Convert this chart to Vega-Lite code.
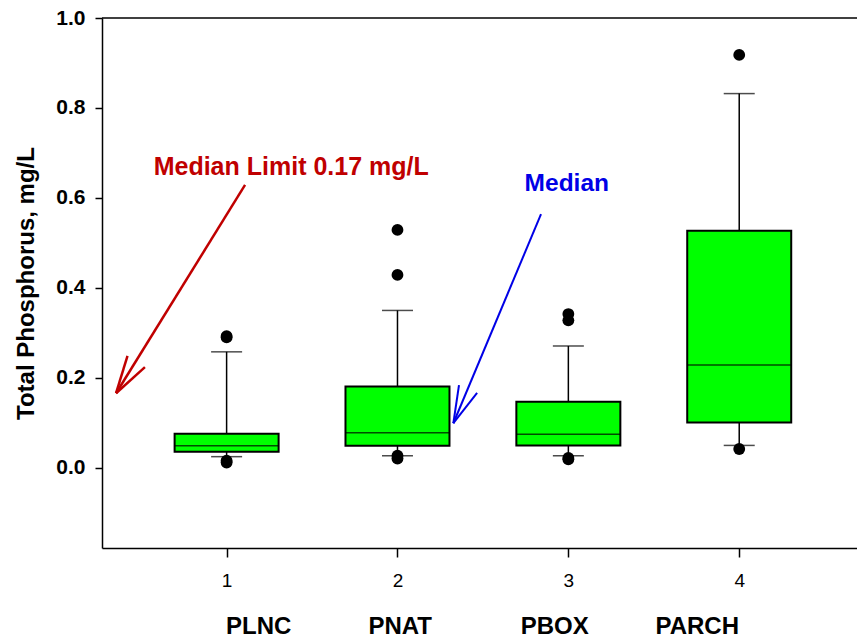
{
  "$schema": "https://vega.github.io/schema/vega-lite/v6.json",
  "autosize": "none",
  "width": 755,
  "height": 530,
  "padding": {"left": 102, "top": 18, "right": 0, "bottom": 91},
  "background": "white",
  "config": {
    "view": {"stroke": null},
    "font": "Liberation Sans",
    "axis": {"grid": false, "domainColor": "black", "domainWidth": 1.5, "tickColor": "black", "tickWidth": 1.5, "labelColor": "black", "titleColor": "black", "labelFont": "Liberation Sans", "titleFont": "Liberation Sans"}
  },
  "datasets": {
    "boxes": [
      {"site": 1, "lo": 0.025, "q1": 0.036, "med": 0.049, "q3": 0.076, "hi": 0.258},
      {"site": 2, "lo": 0.027, "q1": 0.049, "med": 0.078, "q3": 0.181, "hi": 0.35},
      {"site": 3, "lo": 0.027, "q1": 0.05, "med": 0.075, "q3": 0.147, "hi": 0.271},
      {"site": 4, "lo": 0.05, "q1": 0.101, "med": 0.229, "q3": 0.527, "hi": 0.832}
    ],
    "outliers": [
      {"site": 1, "tp": 0.29}, {"site": 1, "tp": 0.293}, {"site": 1, "tp": 0.012}, {"site": 1, "tp": 0.016},
      {"site": 2, "tp": 0.529}, {"site": 2, "tp": 0.429}, {"site": 2, "tp": 0.021}, {"site": 2, "tp": 0.027},
      {"site": 3, "tp": 0.342}, {"site": 3, "tp": 0.328}, {"site": 3, "tp": 0.019}, {"site": 3, "tp": 0.022},
      {"site": 4, "tp": 0.918}, {"site": 4, "tp": 0.042}
    ],
    "arrows": [
      {"arrow": "limit", "x": 1.108, "y": 0.629, "x2": 0.353, "y2": 0.166},
      {"arrow": "limit", "x": 0.353, "y": 0.166, "x2": 0.42, "y2": 0.249},
      {"arrow": "limit", "x": 0.353, "y": 0.166, "x2": 0.522, "y2": 0.224},
      {"arrow": "median", "x": 2.84, "y": 0.564, "x2": 2.327, "y2": 0.0993},
      {"arrow": "median", "x": 2.327, "y": 0.0993, "x2": 2.36, "y2": 0.184},
      {"arrow": "median", "x": 2.327, "y": 0.0993, "x2": 2.466, "y2": 0.167}
    ],
    "labels": [
      {"arrow": "limit", "x": 1.378, "y": 0.651, "text": "Median Limit 0.17 mg/L"},
      {"arrow": "median", "x": 2.991, "y": 0.616, "text": "Median"}
    ],
    "names": [
      {"x": 1.188, "y": -0.353, "name": "PLNC"},
      {"x": 2.016, "y": -0.353, "name": "PNAT"},
      {"x": 2.92, "y": -0.353, "name": "PBOX"},
      {"x": 3.754, "y": -0.353, "name": "PARCH"}
    ]
  },
  "layer": [
    {
      "data": {"name": "boxes"},
      "mark": {"type": "rule", "color": "black", "strokeWidth": 1.5},
      "encoding": {
        "x": {"field": "site", "type": "quantitative", "scale": {"domain": [0.3, 4.66], "nice": false, "zero": false},
          "axis": {"values": [1, 2, 3, 4], "format": "d", "title": null, "labelFontSize": 19, "labelFontWeight": "normal", "tickSize": 9, "labelPadding": 14}},
        "y": {"field": "lo", "type": "quantitative", "scale": {"domain": [-0.178, 1.0], "nice": false, "zero": false},
          "axis": {"values": [0, 0.2, 0.4, 0.6, 0.8, 1.0], "format": ".1f", "title": "Total Phosphorus, mg/L", "labelFontSize": 21, "labelFontWeight": "bold", "tickSize": 7, "labelPadding": 10, "titleFontSize": 24, "titleFontWeight": "bold", "titlePadding": 17}},
        "y2": {"field": "hi"}
      }
    },
    {
      "data": {"name": "boxes"},
      "mark": {"type": "tick", "orient": "horizontal", "color": "black", "size": 31, "thickness": 1.5},
      "encoding": {"x": {"field": "site", "type": "quantitative"}, "y": {"field": "hi", "type": "quantitative"}}
    },
    {
      "data": {"name": "boxes"},
      "mark": {"type": "tick", "orient": "horizontal", "color": "black", "size": 31, "thickness": 1.5},
      "encoding": {"x": {"field": "site", "type": "quantitative"}, "y": {"field": "lo", "type": "quantitative"}}
    },
    {
      "data": {"name": "boxes"},
      "mark": {"type": "bar", "width": 104, "fill": "#00FF00", "stroke": "black", "strokeWidth": 2},
      "encoding": {"x": {"field": "site", "type": "quantitative"}, "y": {"field": "q1", "type": "quantitative"}, "y2": {"field": "q3"}}
    },
    {
      "data": {"name": "boxes"},
      "mark": {"type": "tick", "orient": "horizontal", "color": "black", "size": 104, "thickness": 1.5},
      "encoding": {"x": {"field": "site", "type": "quantitative"}, "y": {"field": "med", "type": "quantitative"}}
    },
    {
      "data": {"name": "outliers"},
      "mark": {"type": "point", "filled": true, "color": "black", "size": 140, "opacity": 1},
      "encoding": {"x": {"field": "site", "type": "quantitative"}, "y": {"field": "tp", "type": "quantitative"}}
    },
    {
      "data": {"values": [{"top": 1.0}]},
      "mark": {"type": "rule", "color": "black", "strokeWidth": 1.5},
      "encoding": {"y": {"field": "top", "type": "quantitative"}}
    },
    {
      "data": {"name": "arrows"},
      "transform": [{"filter": "datum.arrow === 'limit'"}],
      "mark": {"type": "rule", "color": "#C00000", "strokeWidth": 2.5},
      "encoding": {"x": {"field": "x", "type": "quantitative"}, "y": {"field": "y", "type": "quantitative"}, "x2": {"field": "x2"}, "y2": {"field": "y2"}}
    },
    {
      "data": {"name": "arrows"},
      "transform": [{"filter": "datum.arrow === 'median'"}],
      "mark": {"type": "rule", "color": "#0000E6", "strokeWidth": 2},
      "encoding": {"x": {"field": "x", "type": "quantitative"}, "y": {"field": "y", "type": "quantitative"}, "x2": {"field": "x2"}, "y2": {"field": "y2"}}
    },
    {
      "data": {"name": "labels"},
      "transform": [{"filter": "datum.arrow === 'limit'"}],
      "mark": {"type": "text", "color": "#C00000", "fontSize": 25, "fontWeight": "bold", "font": "Liberation Sans", "align": "center", "baseline": "alphabetic"},
      "encoding": {"x": {"field": "x", "type": "quantitative"}, "y": {"field": "y", "type": "quantitative"}, "text": {"field": "text"}}
    },
    {
      "data": {"name": "labels"},
      "transform": [{"filter": "datum.arrow === 'median'"}],
      "mark": {"type": "text", "color": "#0000E6", "fontSize": 24.5, "fontWeight": "bold", "font": "Liberation Sans", "align": "center", "baseline": "alphabetic"},
      "encoding": {"x": {"field": "x", "type": "quantitative"}, "y": {"field": "y", "type": "quantitative"}, "text": {"field": "text"}}
    },
    {
      "data": {"name": "names"},
      "mark": {"type": "text", "color": "black", "fontSize": 24, "fontWeight": "bold", "font": "Liberation Sans", "align": "center", "baseline": "middle"},
      "encoding": {"x": {"field": "x", "type": "quantitative"}, "y": {"field": "y", "type": "quantitative"}, "text": {"field": "name"}}
    }
  ]
}
